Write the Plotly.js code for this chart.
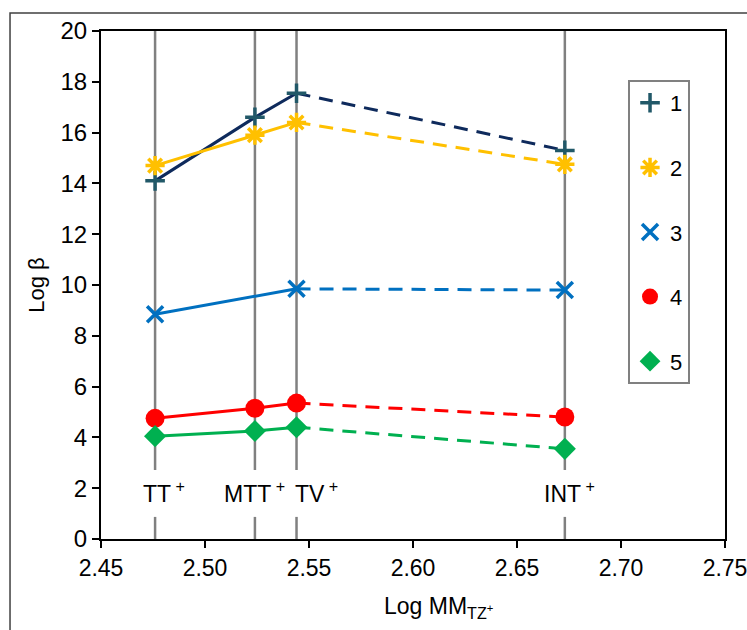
<!DOCTYPE html>
<html>
<head>
<meta charset="utf-8">
<script src="https://cdn.plot.ly/plotly-3.0.1.min.js"></script>
<style>html,body{margin:0;padding:0;background:#fff;}#chart{width:747px;height:630px;}</style>
</head>
<body>
<div id="chart"></div>
<script>
// Complexes (x positions = Log MM of tetrazolium ions)
var complexNames = ["TT<sup> +</sup>", "MTT<sup> +</sup>", "TV<sup> +</sup>", "INT<sup> +</sup>"];
var logMM = [2.476, 2.524, 2.544, 2.673];

var seriesNames = ["1", "2", "3", "4", "5"];
// Log beta values for each series at TT+, MTT+, TV+, INT+ (null = not measured)
var s1 = [14.1, 16.6, 17.55, 15.3];
var s2 = [14.7, 15.9, 16.4, 14.75];
var s3 = [8.85, null, 9.85, 9.8];
var s4 = [4.75, 5.15, 5.35, 4.8];
var s5 = [4.05, 4.25, 4.4, 3.55];

var yTicks = [0, 2, 4, 6, 8, 10, 12, 14, 16, 18, 20];
var xTicks = [2.45, 2.50, 2.55, 2.60, 2.65, 2.70, 2.75];

var allSeries = [s1, s2, s3, s4, s5];
var lineColors = ["#0E2A5C", "#FFC000", "#0070C0", "#FF0000", "#00B050"];
var markerColors = ["#215868", "#FFC000", "#0070C0", "#FF0000", "#00B050"];
var symbols = ["cross-thin-open", "asterisk-open", "x-thin-open", "circle", "diamond"];
var sizes = [14, 16, 16, 19, 17];
var thin = [true, true, true, false, false];
var labelShift = [9, 0, 20, 5];

var FONT = "Liberation Sans, Arial, sans-serif";

var traces = [];
allSeries.forEach(function(vals, i) {
  var sx = [], sy = [];
  for (var k = 0; k < 3; k++) { if (vals[k] !== null) { sx.push(logMM[k]); sy.push(vals[k]); } }
  traces.push({x: sx, y: sy, mode: "lines", showlegend: false, hoverinfo: "skip",
    line: {color: lineColors[i], width: 3}});
  traces.push({x: [logMM[2], logMM[3]], y: [vals[2], vals[3]], mode: "lines", showlegend: false,
    hoverinfo: "skip", line: {color: lineColors[i], width: 3, dash: "14px,9px"}});
});
allSeries.forEach(function(vals, i) {
  var mx = [], my = [];
  for (var k = 0; k < vals.length; k++) { if (vals[k] !== null) { mx.push(logMM[k]); my.push(vals[k]); } }
  var mk = {symbol: symbols[i], size: sizes[i], color: markerColors[i]};
  if (thin[i]) { mk.line = {color: markerColors[i], width: 3.5}; }
  else { mk.line = {width: 0}; }
  traces.push({x: mx, y: my, mode: "markers", name: seriesNames[i], legendgroup: "g" + i,
    marker: mk});
});

var shapes = [];
var annotations = [];
var gapLow = 0.87, gapHigh = 2.72, labelY = 1.85;
logMM.forEach(function(xv, k) {
  shapes.push({type: "line", xref: "x", yref: "y", x0: xv, x1: xv, y0: gapHigh, y1: yTicks[yTicks.length-1],
    line: {color: "#808080", width: 2.5}, layer: "below"});
  shapes.push({type: "line", xref: "x", yref: "y", x0: xv, x1: xv, y0: 0, y1: gapLow,
    line: {color: "#808080", width: 2.5}, layer: "below"});
  annotations.push({x: xv, y: labelY, xref: "x", yref: "y", text: complexNames[k], showarrow: false,
    xshift: labelShift[k],
    font: {family: FONT, size: 23, color: "#000"}, xanchor: "center", yanchor: "middle"});
});
// x-axis title
annotations.push({xref: "paper", yref: "paper", x: 0.5417, y: -0.134, showarrow: false,
  text: "Log MM<sub>TZ<sup>+</sup></sub>", xanchor: "center", yanchor: "middle",
  font: {family: FONT, size: 23, color: "#000"}});
// outer frame
shapes.push({type: "rect", xref: "paper", yref: "paper", x0: -0.1458, x1: 1.2, y0: -0.3, y1: 1.0354,
  line: {color: "#404040", width: 1.5}, fillcolor: "rgba(0,0,0,0)", layer: "below"});

var layout = {
  width: 747, height: 630,
  margin: {l: 101, r: 22, t: 31, b: 91},
  paper_bgcolor: "#fff", plot_bgcolor: "#fff",
  font: {family: FONT, size: 21, color: "#000"},
  xaxis: {range: [xTicks[0], xTicks[xTicks.length-1]], tickvals: xTicks,
    ticktext: xTicks.map(function(v){return v.toFixed(2);}),
    showgrid: false, zeroline: false, showline: true, linecolor: "#000", linewidth: 2, mirror: true,
    ticks: "outside", ticklen: 7, tickwidth: 2, tickcolor: "#000",
    ticklabeloverflow: "allow",
    tickfont: {family: FONT, size: 23, color: "#000"}},
  yaxis: {range: [yTicks[0], yTicks[yTicks.length-1]], tickvals: yTicks,
    showgrid: false, zeroline: false, showline: true, linecolor: "#000", linewidth: 2, mirror: true,
    ticks: "outside", ticklen: 7, tickwidth: 2, tickcolor: "#000",
    tickfont: {family: FONT, size: 24, color: "#000"},
    title: {text: "Log β", font: {family: FONT, size: 22, color: "#000"}, standoff: 10}},
  legend: {x: 0.8446, y: 0.9035, xanchor: "left", yanchor: "top",
    bordercolor: "#808080", borderwidth: 2, bgcolor: "#fff",
    font: {family: FONT, size: 22, color: "#000"}, tracegroupgap: 33, itemwidth: 30},
  shapes: shapes,
  annotations: annotations,
  showlegend: true
};

Plotly.newPlot("chart", traces, layout, {displayModeBar: false, staticPlot: true});
</script>
</body>
</html>
